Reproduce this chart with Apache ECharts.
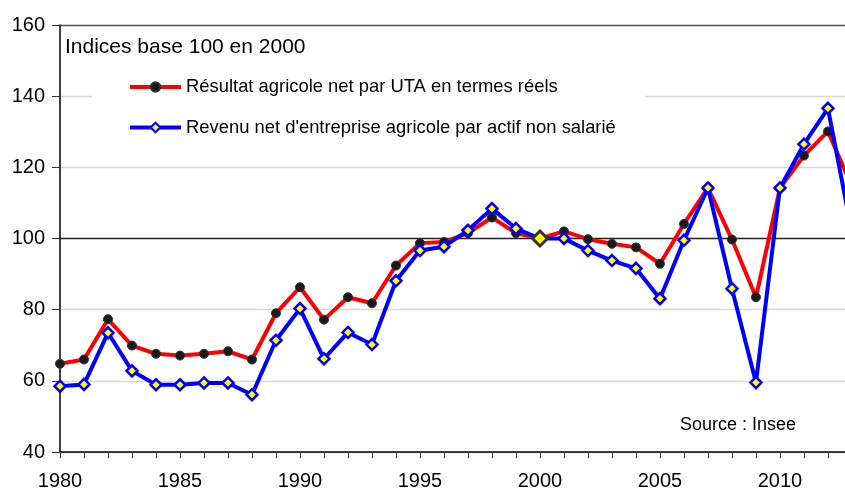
<!DOCTYPE html>
<html>
<head>
<meta charset="utf-8">
<script src="https://cdn.jsdelivr.net/npm/echarts@6/dist/echarts.min.js"></script>
<style>
html,body{margin:0;padding:0;background:#fff;}
#chart{width:845px;height:491px;}
</style>
</head>
<body>
<div id="chart"></div>
<script>
const years = [1980,1981,1982,1983,1984,1985,1986,1987,1988,1989,1990,1991,1992,1993,1994,1995,1996,1997,1998,1999,2000,2001,2002,2003,2004,2005,2006,2007,2008,2009,2010,2011,2012,2013];
const resultatUTA = [64.8,66.0,77.3,69.9,67.6,67.1,67.6,68.3,66.0,79.0,86.3,77.2,83.5,81.8,92.4,98.7,99.0,101.5,105.9,101.5,100.0,102.0,99.8,98.5,97.5,92.9,104.1,114.2,99.7,83.5,114.2,123.3,130.1,114.5];
const revenuActif = [58.5,59.0,73.5,62.8,58.9,58.9,59.4,59.4,56.1,71.4,80.3,66.2,73.6,70.2,88.1,96.6,97.7,102.3,108.4,102.8,100.0,100.0,96.6,93.8,91.6,83.1,99.5,114.2,85.9,59.5,114.2,126.5,136.6,101.6];
const yTicks = [40,60,80,100,120,140,160];
const xLabelYears = [1980,1985,1990,1995,2000,2005,2010];
const seriesNames = ['Résultat agricole net par UTA en termes réels', "Revenu net d'entreprise agricole par actif non salarié"];
const titleText = 'Indices base 100 en 2000';
const sourceText = 'Source : Insee';

const FONT = "'Liberation Sans', Arial, sans-serif";
const chart = echarts.init(document.getElementById('chart'), null, {renderer:'canvas'});

const redData = years.map((y,i)=>[y, resultatUTA[i]]);
const blueData = years.map((y,i)=>{
  if (y === 2000) {
    return {value:[y, revenuActif[i]], symbolSize:15, itemStyle:{color:'#ffff00', borderColor:'#333333', borderWidth:3}};
  }
  return [y, revenuActif[i]];
});

chart.setOption({
  animation:false,
  backgroundColor:'#ffffff',
  textStyle:{fontFamily:FONT},
  title:[
    {text:titleText, left:60, top:32, textStyle:{fontFamily:FONT, fontSize:21, fontWeight:'normal', color:'#000'}},
    {text:sourceText, left:675, top:411, textStyle:{fontFamily:FONT, fontSize:18, fontWeight:'normal', color:'#000'}}
  ],
  graphic:[
    {type:'rect', shape:{x:92, y:62, width:553, height:84}, style:{fill:'#ffffff'}, z:1, silent:true}
  ],
  legend:{
    orient:'vertical',
    left:128, top:78, padding:0,
    itemWidth:51, itemHeight:12,
    itemGap:22.5,
    lineStyle:{width:4},
    textStyle:{fontFamily:FONT, fontSize:18.4, color:'#000'},
    data:seriesNames
  },
  grid:{left:60, right:0, top:25, bottom:38, containLabel:false},
  xAxis:{
    type:'value', min:1980, max:2012.71, interval:1,
    axisLine:{show:true, lineStyle:{color:'#000', width:1.5}},
    axisTick:{show:true, length:6, lineStyle:{color:'#333'}},
    axisLabel:{
      fontFamily:FONT, fontSize:20, color:'#000', margin:19,
      showMaxLabel:false,
      formatter:v => xLabelYears.indexOf(v) >= 0 ? String(v) : ''
    },
    splitLine:{show:false}
  },
  yAxis:{
    type:'value', min:40, max:160, interval:20,
    axisLine:{show:true, lineStyle:{color:'#000', width:1.5}},
    axisTick:{show:true, length:8, lineStyle:{color:'#333'}},
    axisLabel:{fontFamily:FONT, fontSize:20, color:'#000', margin:15,
      formatter:v => yTicks.indexOf(v) >= 0 ? String(v) : ''},
    splitLine:{show:true, lineStyle:{width:1.3, color:['#d9d9d9','#d9d9d9','#d9d9d9','#222222','#d9d9d9','#d9d9d9','#555555']}}
  },
  series:[
    {
      name:seriesNames[0], type:'line', data:redData, z:3,
      lineStyle:{color:'#ff0000', width:4},
      itemStyle:{color:'#1a1a1a', borderColor:'#333', borderWidth:1},
      symbol:'circle', symbolSize:9, showAllSymbol:true
    },
    {
      name:seriesNames[1], type:'line', data:blueData, z:4,
      lineStyle:{color:'#0000ff', width:4},
      itemStyle:{color:'#ffff00', borderColor:'#0000ff', borderWidth:2.5},
      symbol:'diamond', symbolSize:11, showAllSymbol:true
    }
  ]
});
</script>
</body>
</html>
